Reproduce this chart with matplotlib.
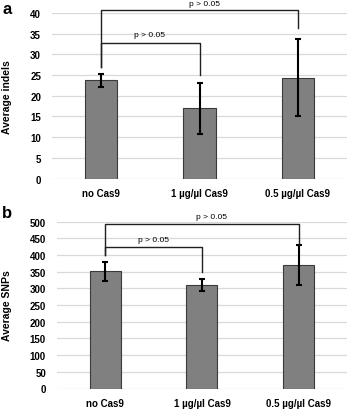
import matplotlib
matplotlib.use("Agg")
import matplotlib.pyplot as plt

plt.rcParams['font.family'] = ['Liberation Sans', 'DejaVu Sans']

# data
groups = ["no Cas9", "1 µg/µl Cas9", "0.5 µg/µl Cas9"]
indels = [23.7, 17.0, 24.4]
indels_err = [1.5, 6.2, 9.3]
snps = [351, 310, 370]
snps_err = [29, 17, 60]

# significance brackets: (left bar, right bar, height, left leg end, right leg end)
indel_brackets = [(0, 1, 32.7, 27.0, 25.0), (0, 2, 40.7, 27.0, 36.3)]
snp_brackets = [(0, 1, 425, 400, 350), (0, 2, 492, 400, 432)]
p_text = "p > 0.05"

fig = plt.figure(figsize=(3.5, 4.1), dpi=100)
ax_a = fig.add_axes([0.149, 0.562, 0.842, 0.404])
ax_b = fig.add_axes([0.163, 0.050, 0.828, 0.407])


def draw_panel(ax, vals, errs, brackets, ymax, step, ylabel, width, text_pos):
    x = range(len(vals))
    ax.bar(x, vals, width=width, color='#808080', edgecolor='#3a3a3a',
           linewidth=0.8, zorder=2)
    ax.errorbar(x, vals, yerr=errs, fmt='none', ecolor='black', elinewidth=1.5,
                capsize=2, capthick=1.5, zorder=3)
    for (i, j, h, y1, y2), (tx, ty) in zip(brackets, text_pos):
        ax.plot([i, i, j, j], [y1, h, h, y2], color='#202020', lw=1.0,
                clip_on=False, zorder=4)
        ax.text(tx, ty, p_text, ha='center', va='center', fontsize=6,
                clip_on=False)
    ax.set_xlim(-0.5, len(vals) - 0.5)
    ax.set_ylim(0, ymax)
    ax.set_yticks(range(0, ymax + 1, step))
    ax.set_xticks(list(x))
    ax.set_xticklabels(groups)
    for s in ax.spines.values():
        s.set_visible(False)
    ax.grid(axis='y', color='#d9d9d9', lw=0.9, zorder=0)
    ax.set_axisbelow(True)
    ax.tick_params(axis='y', length=0, pad=8, labelsize=7)
    ax.tick_params(axis='x', length=0, pad=7, labelsize=7)
    for lab in ax.get_xticklabels() + ax.get_yticklabels():
        lab.set_fontweight('bold')
    ax.set_ylabel(ylabel, fontsize=7.5, fontweight='bold')


draw_panel(ax_a, indels, indels_err, indel_brackets, 40, 5, "Average indels",
           0.33, [(0.49, 34.7), (1.05, 42.2)])
draw_panel(ax_b, snps, snps_err, snp_brackets, 500, 50, "Average SNPs",
           0.32, [(0.5, 446), (1.1, 514)])

ax_a.yaxis.set_label_coords(12.5 / 350, 1 - 97 / 410, transform=fig.transFigure)
ax_b.yaxis.set_label_coords(12.5 / 350, 1 - 306 / 410, transform=fig.transFigure)

fig.text(7 / 350, 1 - 9 / 410, "a", fontsize=12, fontweight='bold',
         ha='center', va='center')
fig.text(7 / 350, 1 - 214 / 410, "b", fontsize=12, fontweight='bold',
         ha='center', va='center')

fig.savefig("out.png", dpi=100)
